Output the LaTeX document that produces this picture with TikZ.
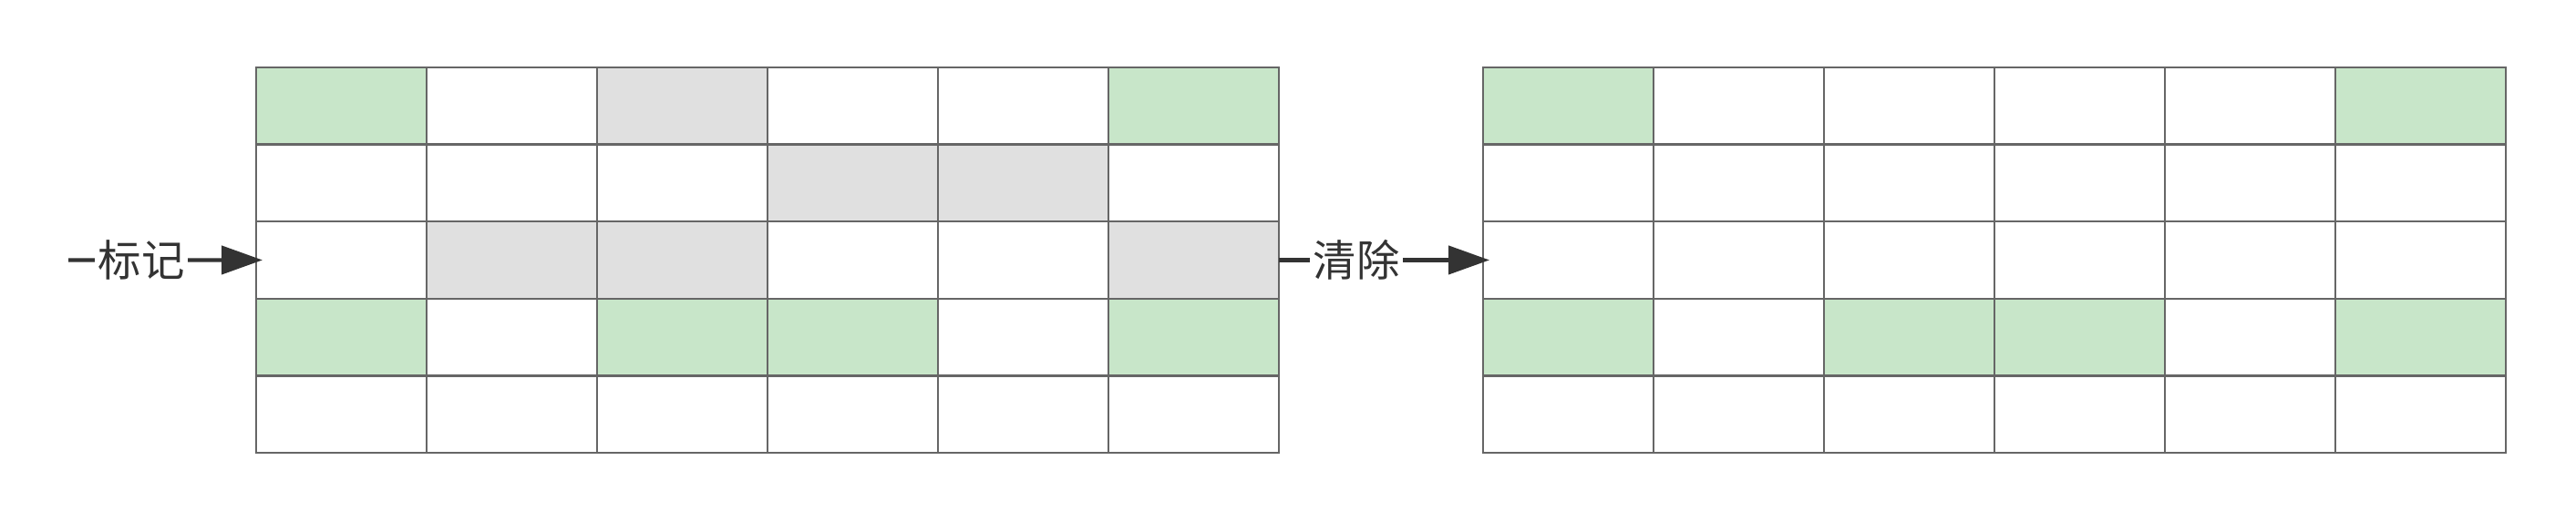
\documentclass[tikz,border=0pt]{standalone}
\usepackage{fontspec}
\newfontfamily\cjk{Noto Sans CJK SC}
\usetikzlibrary{arrows.meta}
\definecolor{cg}{HTML}{C8E6C9}
\definecolor{ck}{HTML}{E0E0E0}
\definecolor{cw}{HTML}{FFFFFF}
\definecolor{edge}{HTML}{666666}
\definecolor{ink}{HTML}{333333}
\tikzset{
  cell/.style={draw=edge,line width=0.7pt,minimum width=1.87cm,minimum height=0.846cm,inner sep=0pt,outer sep=0pt},
  flow/.style={draw=ink,line width=1.2pt,-{Triangle[length=4.5mm,width=3.1mm]},shorten >=-0.07cm},
  lbl/.style={fill=white,text=ink,inner sep=1pt,font=\cjk\fontsize{13.5}{16}\selectfont}
}
\begin{document}
\begin{tikzpicture}
    \useasboundingbox (0,0) rectangle (28.26,5.73);
    \foreach \row [count=\r] in {{g,w,k,w,w,g},{w,w,w,k,k,w},{w,k,k,w,w,k},{g,w,g,g,w,g},{w,w,w,w,w,w}}
        \foreach \f [count=\c] in \row
            \node[cell,fill=c\f] (L-\r-\c) at ({2.81+(\c-0.5)*1.87},{4.99-(\r-0.5)*0.846}) {};
    \foreach \row [count=\r] in {{g,w,w,w,w,g},{w,w,w,w,w,w},{w,w,w,w,w,w},{g,w,g,g,w,g},{w,w,w,w,w,w}}
        \foreach \f [count=\c] in \row
            \node[cell,fill=c\f] (R-\r-\c) at ({16.27+(\c-0.5)*1.87},{4.99-(\r-0.5)*0.846}) {};
    \coordinate (start) at (0.75,2.875);
    \draw[flow] (start) -- (L-3-1.west) node[lbl,pos=0.39]{标记};
    \draw[flow] (L-3-6.east) -- (R-3-1.west) node[lbl,pos=0.38]{清除};
\end{tikzpicture}
\end{document}
